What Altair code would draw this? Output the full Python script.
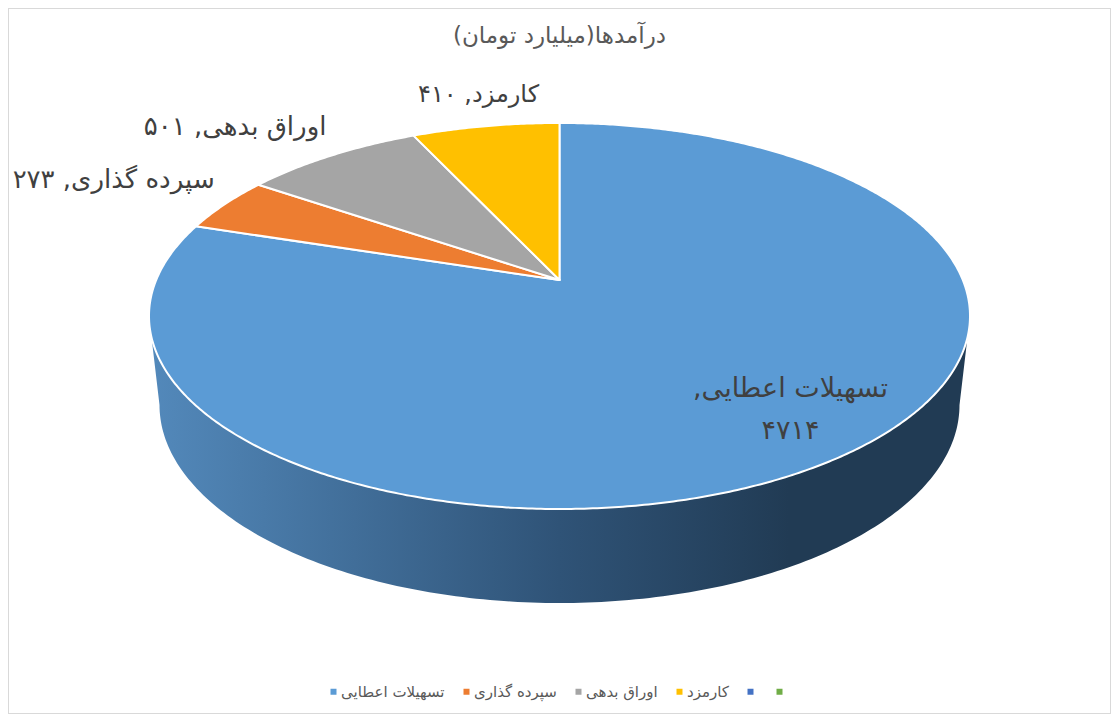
import math
import altair as alt

TITLE = "درآمدها(میلیارد تومان)"
CATEGORIES = ["تسهیلات اعطایی", "سپرده گذاری", "اوراق بدهی", "کارمزد", " ", "\u00a0"]
VALUES = [4714, 273, 501, 410]
COLORS = ["#5B9BD5", "#ED7D31", "#A5A5A5", "#FFC000", "#4472C4", "#70AD47"]
FONT = "DejaVu Sans"

# perspective of the pie's top face, in pixels relative to the apex
A, B, K = 403.3, 186.3, 0.1865
PROJ = {"type": "identity", "reflectY": True, "scale": 1, "translate": [551.5, 272]}


def to_face(deg, r=1.0):
    t = math.radians(deg)
    X, Y = -r * math.sin(t), r * math.cos(t)
    d = 1 + K * Y
    return [A * X / d, B * Y / d]


def feature(coords, **props):
    return {"type": "Feature", "properties": props,
            "geometry": {"type": "Polygon", "coordinates": [coords]}}


total = sum(VALUES)
# slices run counter-clockwise from 12 o'clock, last category first
spans = {}
start = 0.0
for i in [3, 2, 1, 0]:
    end = start + 360 * VALUES[i] / total
    spans[i] = (start, end)
    start = end

wedges = []
for i in range(4):
    a0, a1 = spans[i]
    n = max(2, int((a1 - a0) * 2))
    pts = [[0.0, 0.0]] + [to_face(a0 + (a1 - a0) * j / n) for j in range(n + 1)] + [[0.0, 0.0]]
    wedges.append(feature(pts, name=CATEGORIES[i]))

# side wall: lower half of the bottom ellipse joined to the widest points of the top face
RX_B, RY_B, CY_B = 400.0, 198.0, -125.0
TOP_RX, TOP_CY = 410.5, -36.0
side_pts = [[-TOP_RX, TOP_CY]]
for j in range(181):
    t = math.radians(180 + j)
    side_pts.append([RX_B * math.cos(t), CY_B + RY_B * math.sin(t)])
side_pts += [[TOP_RX, TOP_CY], [-TOP_RX, TOP_CY]]

scale = alt.Scale(domain=CATEGORIES, range=COLORS)

side = alt.Chart(alt.Data(values=[feature(side_pts, name="side")])).mark_geoshape(
    fill=alt.Gradient(
        gradient="linear", x1=0, x2=1, y1=0, y2=0,
        stops=[alt.GradientStop(offset=0, color="#5389BB"),
               alt.GradientStop(offset=0.5, color="#2F5377"),
               alt.GradientStop(offset=0.78, color="#213B54"),
               alt.GradientStop(offset=1, color="#213B54")]),
    strokeWidth=0,
).project(**PROJ)

top = alt.Chart(alt.Data(values=wedges)).mark_geoshape(
    stroke="white", strokeWidth=2, strokeJoin="round",
).encode(
    color=alt.Color(
        "properties.name:N", scale=scale,
        legend=alt.Legend(
            title=None, orient="none", legendX=318, legendY=676, direction="horizontal",
            columns=6, symbolType="square", symbolSize=36, symbolStrokeWidth=0,
            labelFont=FONT, labelFontSize=15, labelColor="#595959",
            columnPadding=14, labelOffset=0, labelLimit=200,
        ),
    )
).project(**PROJ)

FA = str.maketrans("0123456789", "۰۱۲۳۴۵۶۷۸۹")
layers = [side, top]
LABEL_STYLE = {
    0: dict(dx=-49, dy=-68, lineHeight=42, fontSize=27),
    1: dict(dx=-111, dy=-24, fontSize=26),
    2: dict(dx=-96, dy=-29, fontSize=26),
    3: dict(dx=-7, dy=-31, fontSize=24),
}
for i in range(4):
    mid = sum(spans[i]) / 2
    lon, lat = to_face(mid)
    num = str(VALUES[i]).translate(FA)
    if i == 0:
        text = f"{CATEGORIES[i]},\u200f\n{num}"
    else:
        text = f"{CATEGORIES[i]}, {num}"
    layers.append(
        alt.Chart(alt.Data(values=[{"lon": lon, "lat": lat, "label": text}])).mark_text(
            font=FONT, color="#404040", align="center", baseline="middle",
            lineBreak="\n", **LABEL_STYLE[i],
        ).encode(longitude="lon:Q", latitude="lat:Q", text="label:N")
        .project(**PROJ)
    )

chart = alt.layer(*layers).properties(
    width=1103, height=706,
    padding=0,
    autosize=alt.AutoSizeParams(type="none"),
    view=alt.ViewBackground(stroke="#D9D9D9", strokeWidth=2),
    title=alt.TitleParams(
        TITLE, font=FONT, fontSize=23, fontWeight="normal", color="#595959",
        anchor="middle", offset=-40,
    ),
).resolve_scale(color="shared")

chart.save("out.html", embed_options={"renderer": "svg", "actions": False})
